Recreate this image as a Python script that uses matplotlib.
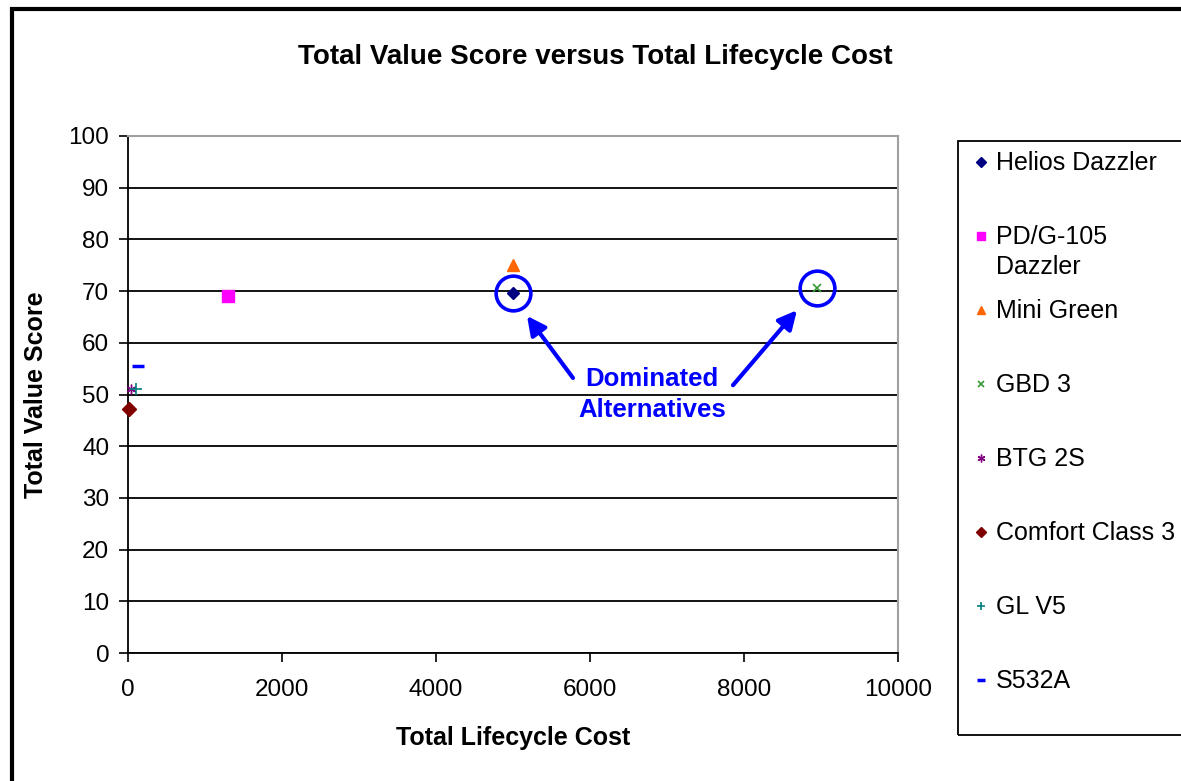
import matplotlib
matplotlib.use("Agg")
import matplotlib.pyplot as plt
from matplotlib.patches import Rectangle

plt.rcParams['font.family'] = ['Liberation Sans', 'DejaVu Sans']

# ---- data ----
names = ["Helios Dazzler", "PD/G-105\nDazzler", "Mini Green", "GBD 3",
         "BTG 2S", "Comfort Class 3", "GL V5", "S532A"]
cost = [5000, 1300, 5000, 8950, 40, 10, 100, 130]
score = [69.7, 69, 75, 70.6, 51, 47.2, 51, 55.5]
colors = ["#000080", "#FF00FF", "#FF6600", "#339933", "#800080", "#800000", "#008080", "#0000FF"]
markers = ["D", "s", "^", "x", (6, 2, 0), "D", "+", "_"]
msizes = [6, 8, 8, 6, 7, 7, 8, 8]
mew = [1, 1, 1, 1.2, 1, 1, 1.2, 2.5]
dominated = [0, 3]   # indices of dominated alternatives
note_text = "Dominated\nAlternatives"

xticks = [0, 2000, 4000, 6000, 8000, 10000]
yticks = list(range(0, 101, 10))

W, H = 1181, 781
fig = plt.figure(figsize=(W / 100, H / 100), dpi=100)

def fx(px):
    return px / W

def fy(py):
    return 1 - py / H

ax = fig.add_axes([fx(128), fy(653), fx(898) - fx(128), fy(136) - fy(653)])
ax.set_xlim(0, 10000)
ax.set_ylim(0, 100)
ax.set_xticks(xticks)
ax.set_yticks(yticks)
ax.yaxis.grid(True, color='black', lw=1.3)
ax.set_axisbelow(True)
for s in ['top', 'right']:
    ax.spines[s].set_color('#a0a0a0')
    ax.spines[s].set_linewidth(1.5)
for s in ['left', 'bottom']:
    ax.spines[s].set_color('black')
    ax.spines[s].set_linewidth(1.3)
ax.tick_params(direction='out', length=6.5, width=1.2, labelsize=17.5, pad=7)
ax.tick_params(axis='x', pad=12)

for i in range(len(names)):
    ax.plot(cost[i], score[i], linestyle='none', marker=markers[i], color=colors[i],
            markersize=msizes[i], markeredgewidth=mew[i], zorder=3, clip_on=False)

# circles around dominated alternatives
for i in dominated:
    ax.plot(cost[i], score[i], marker='o', markersize=25, markerfacecolor='none',
            markeredgecolor='#0000FF', markeredgewidth=2.6, zorder=4, clip_on=False)

# arrows and note
ax.text(6805, 50.0, note_text, color='#0000FF', fontsize=18.5, fontweight='bold',
        ha='center', va='center', linespacing=1.35)
arrow = dict(arrowstyle='-|>', color='#0000FF', lw=3, mutation_scale=28, shrinkA=0, shrinkB=0)
ax.annotate('', xy=(5182, 65.2), xytext=(5779, 53.2), arrowprops=arrow)
ax.annotate('', xy=(8688, 66.3), xytext=(7857, 51.8), arrowprops=arrow)

ax.set_xlabel("Total Lifecycle Cost", fontsize=18, fontweight='bold', labelpad=18)
ax.set_ylabel("Total Value Score", fontsize=18, fontweight='bold', labelpad=15)
fig.text(fx(595), fy(57), "Total Value Score versus Total Lifecycle Cost",
         fontsize=20, fontweight='bold', ha='center', va='center')

# legend (manual)
fig.patches.append(Rectangle((fx(958), fy(735)), fx(300), fy(141) - fy(735),
                             transform=fig.transFigure, fill=False, ec='black', lw=1.3))
lax = fig.add_axes([0, 0, 1, 1], facecolor='none')
lax.set_xlim(0, W)
lax.set_ylim(H, 0)
lax.axis('off')
for i in range(len(names)):
    yy = 162 + i * 74
    lax.plot(981, yy, linestyle='none', marker=markers[i], color=colors[i],
             markersize=msizes[i] * 0.8, markeredgewidth=mew[i])
    lax.text(996, yy - 11, names[i], fontsize=18, ha='left', va='top', linespacing=1.32)

# outer frame
fig.patches.append(Rectangle((fx(11.5), fy(900)), fx(1400), fy(9.5) - fy(900),
                             transform=fig.transFigure, fill=False, ec='black', lw=3))

fig.savefig("out.png", dpi=100)
